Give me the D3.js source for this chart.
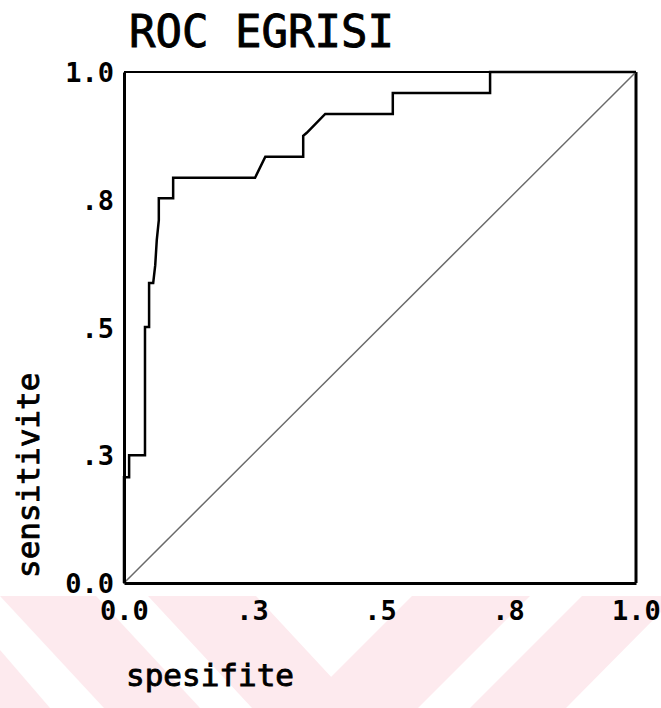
<!DOCTYPE html>
<html>
<head>
<meta charset="utf-8">
<script src="https://cdn.jsdelivr.net/npm/d3@7"></script>
<style>
  html, body { margin: 0; padding: 0; background: #fff; }
  svg { display: block; }
  .mono { font-family: 'DejaVu Sans Mono', 'Liberation Mono', monospace; fill: #000; }
  .medium { stroke: #000; stroke-width: 0.9px; }
</style>
</head>
<body>
<svg id="chart" width="661" height="708"></svg>
<script>
// ROC curve points (1 - specificity, sensitivity)
const fpr = [0, 0, 0.010, 0.010, 0.041, 0.041, 0.049, 0.049, 0.057, 0.061, 0.064, 0.068, 0.068,
  0.072, 0.096, 0.096, 0.256, 0.276, 0.350, 0.350, 0.357, 0.393, 0.525, 0.525, 0.715, 0.715, 1]
const tpr = [0, 0.207, 0.207, 0.250, 0.250, 0.501, 0.501, 0.587, 0.587, 0.622, 0.671, 0.710, 0.753,
  0.753, 0.753, 0.793, 0.793, 0.834, 0.834, 0.875, 0.881, 0.918, 0.918, 0.959, 0.959, 1, 1]
const refLine = [0, 1]
const tickValues = [0, 0.25, 0.5, 0.75, 1]
const tickLabels = ['0.0', '.3', '.5', '.8', '1.0']
const title = 'ROC EGRISI'
const xTitle = 'spesifite'
const yTitle = 'sensitivite'

const svg = d3.select('#chart')
const margins = { top: 72, right: 25, bottom: 125, left: 124 }
const width = 661 - margins.left - margins.right
const height = 708 - margins.top - margins.bottom

// watermark in the background
const wm = svg.append('g').attr('fill', '#fdeaee')
const wmShapes = [
  [[0, 596], [96, 596], [200, 708], [104, 708], [0, 596]],
  [[148, 596], [256, 596], [360, 708], [252, 708]],
  [[300, 708], [412, 596], [530, 596], [418, 708]],
  [[470, 708], [582, 596], [661, 596], [661, 612], [566, 708]],
  [[0, 650], [50, 708], [0, 708]],
]
wm.selectAll('path')
  .data(wmShapes)
  .enter()
  .append('path')
  .attr('d', (d) => d3.line()(d) + 'Z')

const g = svg.append('g')
  .attr('transform', `translate(${margins.left}, ${margins.top})`)

const x = d3.scaleLinear().domain([0, 1]).range([0, width])
const y = d3.scaleLinear().domain([0, 1]).range([height, 0])

// frame
g.append('line')
  .attr('x1', x(0)).attr('x2', x(1))
  .attr('y1', y(1)).attr('y2', y(1))
  .attr('stroke', '#000').attr('stroke-width', 2)
g.append('line')
  .attr('x1', x(1)).attr('x2', x(1))
  .attr('y1', y(1)).attr('y2', y(0))
  .attr('stroke', '#000').attr('stroke-width', 3)

// reference diagonal
g.append('line')
  .attr('x1', x(refLine[0])).attr('y1', y(refLine[0]))
  .attr('x2', x(refLine[1])).attr('y2', y(refLine[1]))
  .attr('stroke', '#6a6a6a').attr('stroke-width', 1.5)

// roc curve
const pts = fpr.map((v, i) => [v, tpr[i]])
g.append('path')
  .datum(pts)
  .attr('fill', 'none')
  .attr('stroke', '#000')
  .attr('stroke-width', 2.5)
  .attr('d', d3.line().x((d) => x(d[0])).y((d) => y(d[1])))

// axes
const xAxis = d3.axisBottom(x).tickValues(tickValues)
  .tickFormat((d, i) => tickLabels[i]).tickSize(0).tickPadding(11)
const yAxis = d3.axisLeft(y).tickValues(tickValues)
  .tickFormat((d, i) => tickLabels[i]).tickSize(0).tickPadding(10)

const gx = g.append('g')
  .attr('class', 'axis axis--x')
  .attr('transform', `translate(0, ${height})`)
  .call(xAxis)
const gy = g.append('g')
  .attr('class', 'axis axis--y')
  .call(yAxis)

for (const a of [gx, gy]) {
  a.select('.domain').attr('stroke', '#000').attr('stroke-width', 3)
  a.selectAll('text')
    .attr('class', 'mono')
    .attr('font-size', 27)
    .attr('font-weight', 'bold')
    .attr('fill', '#000')
}
gx.selectAll('text').attr('dy', '0.95em')
gy.selectAll('text').attr('dy', '0.36em')

// square tick marks
gx.selectAll('.tick')
  .append('rect')
  .attr('x', -4).attr('y', -1).attr('width', 8).attr('height', 7)
gy.selectAll('.tick')
  .append('rect')
  .attr('x', -6).attr('y', -4).attr('width', 7).attr('height', 8)

// titles
svg.append('text')
  .attr('class', 'mono medium')
  .attr('x', 129).attr('y', 47)
  .attr('font-size', 44)
  .text(title)
svg.append('text')
  .attr('class', 'mono medium')
  .attr('x', 126).attr('y', 686)
  .attr('font-size', 31)
  .text(xTitle)
svg.append('text')
  .attr('class', 'mono medium')
  .attr('transform', 'translate(39, 578) rotate(-90)')
  .attr('font-size', 31)
  .text(yTitle)
</script>
</body>
</html>
